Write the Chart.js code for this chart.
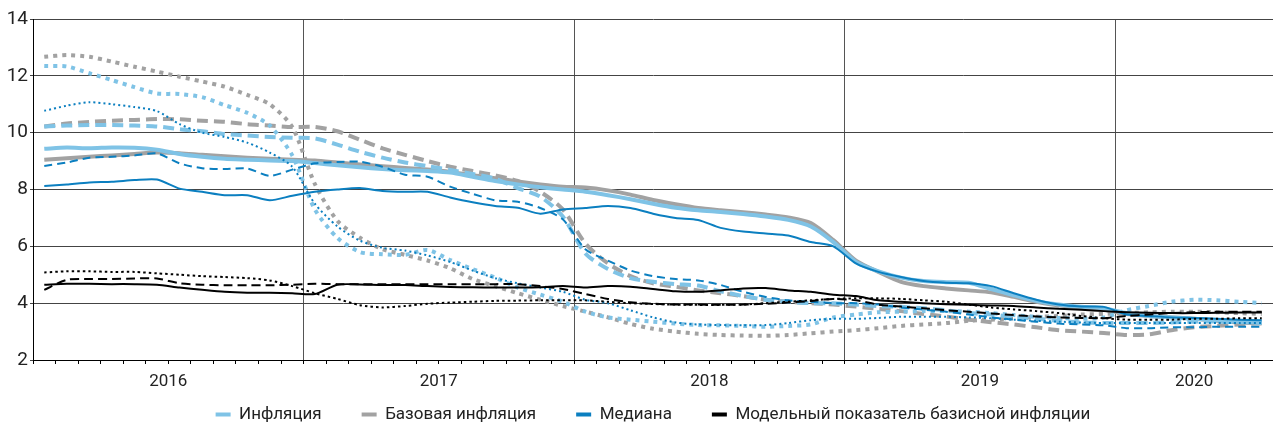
<!DOCTYPE html>
<html>
<head>
<meta charset="utf-8">
<script src="https://cdn.jsdelivr.net/npm/chart.js@4.4.1/dist/chart.umd.min.js"></script>
<style>
  html, body { margin: 0; padding: 0; background: #fff; }
</style>
</head>
<body>
<canvas id="inflChart" width="1273" height="425"></canvas>
<script>
// x axis: years and how many months of each are shown
const yearLabels = ['2016', '2017', '2018', '2019', '2020'];
const monthsPerYear = [12, 12, 12, 12, 7];
const yTicks = [2, 4, 6, 8, 10, 12, 14];

const seriesNames = ['Инфляция', 'Базовая инфляция', 'Медиана', 'Модельный показатель базисной инфляции'];

// solid lines
const inflSolid = [9.43, 9.48, 9.45, 9.48, 9.47, 9.4, 9.25, 9.15, 9.08, 9.05, 9.02, 9.0,
  8.93, 8.85, 8.78, 8.72, 8.68, 8.65, 8.6, 8.45, 8.3, 8.18, 8.08, 8.0,
  7.92, 7.8, 7.66, 7.5, 7.36, 7.27, 7.21, 7.14, 7.05, 6.93, 6.7, 6.15,
  5.45, 5.12, 4.9, 4.78, 4.74, 4.72, 4.5, 4.28, 4.08, 3.95, 3.87, 3.82,
  3.65, 3.55, 3.5, 3.45, 3.4, 3.35, 3.3];
const baseSolid = [9.05, 9.1, 9.15, 9.2, 9.25, 9.3, 9.28, 9.22, 9.17, 9.12, 9.08, 9.05,
  9.02, 8.95, 8.88, 8.82, 8.76, 8.7, 8.62, 8.5, 8.4, 8.28, 8.18, 8.1,
  8.07, 7.97, 7.82, 7.63, 7.48, 7.35, 7.27, 7.2, 7.12, 7.02, 6.82, 6.22,
  5.5, 5.1, 4.75, 4.6, 4.52, 4.45, 4.38, 4.22, 4.05, 3.92, 3.85, 3.77,
  3.62, 3.55, 3.5, 3.45, 3.38, 3.32, 3.28];
const medSolid = [8.12, 8.18, 8.25, 8.27, 8.33, 8.35, 8.03, 7.92, 7.8, 7.8, 7.62, 7.78,
  7.92, 8.0, 8.05, 7.95, 7.92, 7.92, 7.72, 7.55, 7.42, 7.36, 7.15, 7.3,
  7.35, 7.42, 7.35, 7.15, 7.0, 6.93, 6.65, 6.52, 6.45, 6.38, 6.15, 6.0,
  5.4, 5.1, 4.92, 4.78, 4.72, 4.7, 4.6, 4.35, 4.12, 3.95, 3.88, 3.87,
  3.6, 3.55, 3.5, 3.48, 3.45, 3.42, 3.4];
const modelSolid = [4.65, 4.68, 4.68, 4.67, 4.67, 4.65, 4.55, 4.47, 4.4, 4.37, 4.37, 4.35,
  4.32, 4.65, 4.66, 4.64, 4.64, 4.6, 4.57, 4.56, 4.55, 4.55, 4.56, 4.6,
  4.55, 4.6, 4.58, 4.5, 4.42, 4.4, 4.45, 4.52, 4.53, 4.45, 4.4, 4.3,
  4.25, 4.1, 4.05, 4.0, 3.96, 3.94, 3.92, 3.9, 3.85, 3.8, 3.77, 3.72,
  3.68, 3.66, 3.65, 3.65, 3.66, 3.67, 3.67];

// dashed lines
const inflDashed = [10.22, 10.25, 10.27, 10.27, 10.25, 10.22, 10.12, 10.05, 9.95, 9.9, 9.85, 9.82,
  9.8, 9.58, 9.33, 9.12, 8.95, 8.82, 8.69, 8.55, 8.38, 8.05, 7.75, 7.05,
  5.75, 5.2, 4.88, 4.75, 4.67, 4.62, 4.42, 4.25, 4.12, 4.05, 4.0, 4.0,
  3.95, 3.9, 3.87, 3.82, 3.75, 3.65, 3.6, 3.52, 3.45, 3.38, 3.32, 3.3,
  3.3, 3.3, 3.32, 3.35, 3.35, 3.33, 3.32];
const baseDashed = [10.22, 10.32, 10.38, 10.42, 10.45, 10.48, 10.47, 10.42, 10.38, 10.3, 10.25, 10.2,
  10.2, 10.05, 9.75, 9.45, 9.22, 9.0, 8.8, 8.65, 8.5, 8.3, 7.92, 7.3,
  6.1, 5.4, 4.95, 4.7, 4.58, 4.45, 4.35, 4.25, 4.12, 4.05, 4.0, 3.95,
  3.88, 3.8, 3.72, 3.62, 3.53, 3.42, 3.33, 3.25, 3.15, 3.05, 3.0, 2.95,
  2.88, 2.9, 3.05, 3.15, 3.2, 3.25, 3.3];
const medDashed = [8.83, 8.95, 9.12, 9.15, 9.2, 9.27, 8.92, 8.75, 8.72, 8.74, 8.48, 8.7,
  8.92, 8.97, 8.98, 8.8, 8.52, 8.45, 8.1, 7.85, 7.62, 7.57, 7.35, 6.95,
  5.9, 5.5, 5.15, 4.95, 4.85, 4.8, 4.64, 4.4, 4.22, 4.1, 4.05, 4.0,
  4.0, 3.95, 3.85, 3.77, 3.7, 3.6, 3.5, 3.42, 3.35, 3.28, 3.25, 3.22,
  3.12, 3.12, 3.15, 3.15, 3.17, 3.17, 3.17];
const modelDashed = [4.47, 4.82, 4.85, 4.85, 4.87, 4.87, 4.7, 4.65, 4.63, 4.63, 4.63, 4.65,
  4.68, 4.67, 4.67, 4.67, 4.67, 4.67, 4.67, 4.67, 4.67, 4.67, 4.6, 4.5,
  4.32, 4.15, 4.03, 3.98, 3.95, 3.95, 3.94, 3.95, 3.98, 4.02, 4.08, 4.15,
  4.1, 3.95, 3.88, 3.82, 3.75, 3.7, 3.64, 3.58, 3.53, 3.5, 3.48, 3.47,
  3.55, 3.6, 3.65, 3.68, 3.7, 3.7, 3.7];

// dotted lines
const inflDotted = [12.35, 12.33, 12.09, 11.85, 11.6, 11.38, 11.36, 11.25, 10.97, 10.7, 10.25, 9.2,
  7.3, 6.3, 5.8, 5.72, 5.7, 5.87, 5.52, 5.2, 4.9, 4.55, 4.3, 4.05,
  3.7, 3.5, 3.42, 3.35, 3.28, 3.23, 3.22, 3.2, 3.17, 3.2, 3.25, 3.5,
  3.6, 3.68, 3.7, 3.72, 3.72, 3.7, 3.65, 3.58, 3.52, 3.48, 3.45, 3.5,
  3.75, 3.9, 4.05, 4.12, 4.1, 4.05, 4.0];
const baseDotted = [12.67, 12.73, 12.67, 12.5, 12.32, 12.15, 11.97, 11.8, 11.62, 11.33, 11.0, 10.2,
  8.2, 6.9, 6.3, 5.9, 5.7, 5.5, 5.23, 4.85, 4.6, 4.35, 4.12, 3.9,
  3.7, 3.5, 3.27, 3.1, 3.0, 2.92, 2.88, 2.86, 2.85, 2.88, 2.94, 3.0,
  3.05, 3.12, 3.2, 3.25, 3.3, 3.38, 3.42, 3.47, 3.52, 3.55, 3.6, 3.62,
  3.65, 3.68, 3.7, 3.7, 3.68, 3.65, 3.62];
const medDotted = [10.77, 10.95, 11.07, 11.0, 10.9, 10.76, 10.3, 10.0, 9.85, 9.65, 9.3, 8.8,
  7.5, 6.7, 6.2, 5.95, 5.85, 5.68, 5.45, 5.15, 4.88, 4.7, 4.55, 4.4,
  4.12, 4.0, 3.75, 3.5, 3.32, 3.25, 3.23, 3.22, 3.23, 3.3, 3.4, 3.45,
  3.45, 3.48, 3.52, 3.52, 3.52, 3.5, 3.47, 3.42, 3.38, 3.35, 3.32, 3.3,
  3.3, 3.3, 3.3, 3.3, 3.3, 3.3, 3.3];
const modelDotted = [5.08, 5.12, 5.12, 5.1, 5.1, 5.05, 5.0, 4.95, 4.92, 4.88, 4.8, 4.6,
  4.35, 4.15, 3.93, 3.85, 3.9, 3.98, 4.02, 4.05, 4.08, 4.09, 4.1, 4.1,
  4.1, 4.05, 4.0, 3.97, 3.95, 3.94, 3.94, 3.95, 4.0, 4.05, 4.1, 4.15,
  4.17, 4.17, 4.15, 4.1, 4.05, 3.95, 3.85, 3.78, 3.72, 3.65, 3.55, 3.47,
  3.42, 3.42, 3.42, 3.45, 3.45, 3.47, 3.47];

const COLORS = ['#7fc3e6', '#a2a2a2', '#0b7fc0', '#000000'];
const WIDTHS = [4, 4, 2, 2];
const DRAW_ORDER = [2, 3, 1, 0]; // black on top, then blue
const DASH = {
  solid: [[], [], [], []],
  dashed: [[11, 6], [11, 6], [8, 5], [9, 5]],
  dotted: [[4, 5], [4, 5], [2, 3], [2.5, 3]]
};

// month boundaries and year centres on a linear axis
const yearStarts = monthsPerYear.reduce((acc, n) => { acc.push(acc[acc.length - 1] + n); return acc; }, [0]);
const nMonths = yearStarts[yearStarts.length - 1];
const yearCenters = yearLabels.map((_, i) => (yearStarts[i] + yearStarts[i + 1]) / 2);

function toPoints(values) {
    return values.map((v, i) => ({ x: i + 0.5, y: v }));
}

function makeLine(k, values, style) {
    return {
        label: seriesNames[k],
        data: toPoints(values),
        borderColor: COLORS[k],
        backgroundColor: COLORS[k],
        borderWidth: WIDTHS[k],
        borderDash: DASH[style][k],
        borderCapStyle: 'butt',
        pointRadius: 0,
        tension: 0.25,
        order: DRAW_ORDER[k]
    };
}

const datasets = [
    makeLine(0, inflSolid, 'solid'),
    makeLine(1, baseSolid, 'solid'),
    makeLine(2, medSolid, 'solid'),
    makeLine(3, modelSolid, 'solid'),
    makeLine(0, inflDashed, 'dashed'),
    makeLine(1, baseDashed, 'dashed'),
    makeLine(2, medDashed, 'dashed'),
    makeLine(3, modelDashed, 'dashed'),
    makeLine(0, inflDotted, 'dotted'),
    makeLine(1, baseDotted, 'dotted'),
    makeLine(2, medDotted, 'dotted'),
    makeLine(3, modelDotted, 'dotted')
];

const LEGEND_PAD = 40;

// the legend needs wide gaps between items but sits close under the axis labels:
// move its top edge up so the row lands right below the years,
// and centre it under the plot area instead of the whole canvas
const legendLift = {
    id: 'legendLift',
    afterLayout(chart) {
        chart.legend.top -= 30;
        chart.legend.left = chart.chartArea.left;
    }
};

Chart.defaults.font.family = 'Roboto, sans-serif';
Chart.defaults.color = '#222';

const CHART = document.getElementById('inflChart');

let inflChart = new Chart(CHART, {
    type: 'line',
    data: { datasets: datasets },
    plugins: [legendLift],
    options: {
        responsive: false,
        animation: false,
        layout: { padding: { top: 19, right: 0, bottom: 0, left: 0 } },
        plugins: {
            tooltip: { enabled: false },
            legend: {
                position: 'bottom',
                maxHeight: 29,
                labels: {
                    font: { size: 17 },
                    boxWidth: 15,
                    boxHeight: 4,
                    padding: LEGEND_PAD,
                    sort: (a, b) => a.datasetIndex - b.datasetIndex,
                    generateLabels: chart => Chart.defaults.plugins.legend.labels.generateLabels(chart)
                        .filter(item => item.datasetIndex < 4)
                        .map(item => Object.assign(item, { lineWidth: 0, lineDash: [] }))
                }
            }
        },
        scales: {
            x: {
                type: 'linear',
                min: 0,
                max: nMonths,
                afterBuildTicks: scale => {
                    const ticks = [];
                    for (let m = 0; m <= nMonths; m++) ticks.push({ value: m });
                    yearCenters.forEach(c => { if (!Number.isInteger(c)) ticks.push({ value: c }); });
                    ticks.sort((a, b) => a.value - b.value);
                    scale.ticks = ticks;
                },
                afterFit: scale => {
                    scale.height = 36;
                    scale.paddingLeft = 0;
                    scale.paddingRight = 0;
                },
                ticks: {
                    autoSkip: false,
                    maxRotation: 0,
                    minRotation: 0,
                    padding: 8,
                    font: { size: 17 },
                    callback: value => {
                        const i = yearCenters.indexOf(value);
                        return i >= 0 ? yearLabels[i] : '';
                    }
                },
                grid: {
                    tickLength: 4,
                    color: ctx => (ctx.tick && yearStarts.slice(1, -1).includes(ctx.tick.value)) ? '#555' : 'rgba(0,0,0,0)',
                    tickColor: ctx => (ctx.tick && Number.isInteger(ctx.tick.value)) ? '#000' : 'rgba(0,0,0,0)'
                },
                border: { color: '#000', width: 1 }
            },
            y: {
                min: yTicks[0],
                max: yTicks[yTicks.length - 1],
                afterBuildTicks: scale => { scale.ticks = yTicks.map(v => ({ value: v })); },
                afterFit: scale => { scale.width = 33; },
                ticks: { padding: 2, font: { size: 19 } },
                grid: { color: '#444', tickColor: '#444', tickLength: 3 },
                border: { color: '#000', width: 1 }
            }
        }
    }
});
</script>
</body>
</html>
